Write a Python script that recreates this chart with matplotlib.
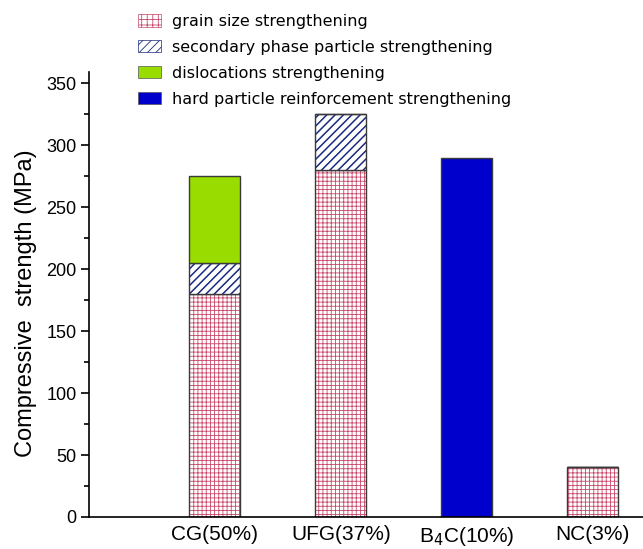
import numpy as np
import matplotlib as mpl
mpl.use('Agg')
import matplotlib.pyplot as plt
from matplotlib.patches import Patch

plt.rcParams['font.family'] = ['Liberation Sans', 'DejaVu Sans']
plt.rcParams['hatch.linewidth'] = 0.6

# data
categories = ['CG(50%)', 'UFG(37%)', r'B$_4$C(10%)', 'NC(3%)']
grain = [180, 280, 0, 40]
secondary = [25, 45, 0, 0]
dislocation = [70, 0, 0, 0]
hard_particle = [0, 0, 290, 0]

grain_col = '#c8486a'
sec_col = '#1a2a80'
disl_col = '#99dd00'
hard_col = '#0000cc'
edge = '#3a3a3a'
w = 0.405

fig = plt.figure(figsize=(6.43, 5.49), dpi=100)
ax = fig.add_axes([0.1384, 0.0583, 0.8616, 0.8106])

x = np.arange(1, len(categories) + 1)
g = np.array(grain)
s = np.array(secondary)
d = np.array(dislocation)
h = np.array(hard_particle)

# hatched layers: hatch first, then a dark outline on top
ax.bar(x, g, w, color='white', edgecolor=grain_col, hatch='++++', linewidth=0)
ax.bar(x, g, w, fill=False, edgecolor=edge, linewidth=1.0)
with mpl.rc_context({'hatch.linewidth': 1.1}):
    ax.bar(x, s, w, bottom=g, color='white', edgecolor=sec_col, hatch='////', linewidth=0)
ax.bar(x, s, w, bottom=g, fill=False, edgecolor=edge, linewidth=1.0)
ax.bar(x, d, w, bottom=g + s, color=disl_col, edgecolor=edge, linewidth=1.0)
ax.bar(x, h, w, color=hard_col, edgecolor=edge, linewidth=1.0)

ax.set_xlim(0, 4.40)
ax.set_ylim(0, 359)
ax.set_yticks(np.arange(0, 351, 50))
ax.set_yticks(np.arange(25, 351, 50), minor=True)
ax.tick_params(axis='y', direction='out', length=6, width=1.2, labelsize=13, pad=3)
ax.tick_params(axis='y', which='minor', direction='out', length=3.5, width=1.2)
ax.set_xticks(x)
ax.set_xticklabels(categories, fontsize=15)
ax.tick_params(axis='x', length=0, pad=6)
ax.spines['top'].set_visible(False)
ax.spines['right'].set_visible(False)
ax.spines['left'].set_linewidth(1.2)
ax.spines['bottom'].set_linewidth(1.2)
ax.set_ylabel('Compressive  strength (MPa)', fontsize=17)
ax.yaxis.set_label_coords(-0.094, 0.48)

handles = [
    Patch(facecolor='white', edgecolor=grain_col, hatch='+++', linewidth=0.5),
    Patch(facecolor='white', edgecolor=sec_col, hatch='////', linewidth=0.5),
    Patch(facecolor=disl_col, edgecolor='#555555', linewidth=0.5),
    Patch(facecolor=hard_col, edgecolor='#555555', linewidth=0.5),
]
labels = ['grain size strengthening', 'secondary phase particle strengthening',
          'dislocations strengthening', 'hard particle reinforcement strengthening']
fig.legend(handles, labels, loc='upper left', bbox_to_anchor=(138 / 643, 1 - 14 / 549),
           frameon=False, prop={'family': 'DejaVu Sans', 'size': 11.5},
           handlelength=1.45, handleheight=0.8, labelspacing=0.68,
           handletextpad=0.7, borderpad=0, borderaxespad=0)

fig.savefig('out.png', dpi=100)
